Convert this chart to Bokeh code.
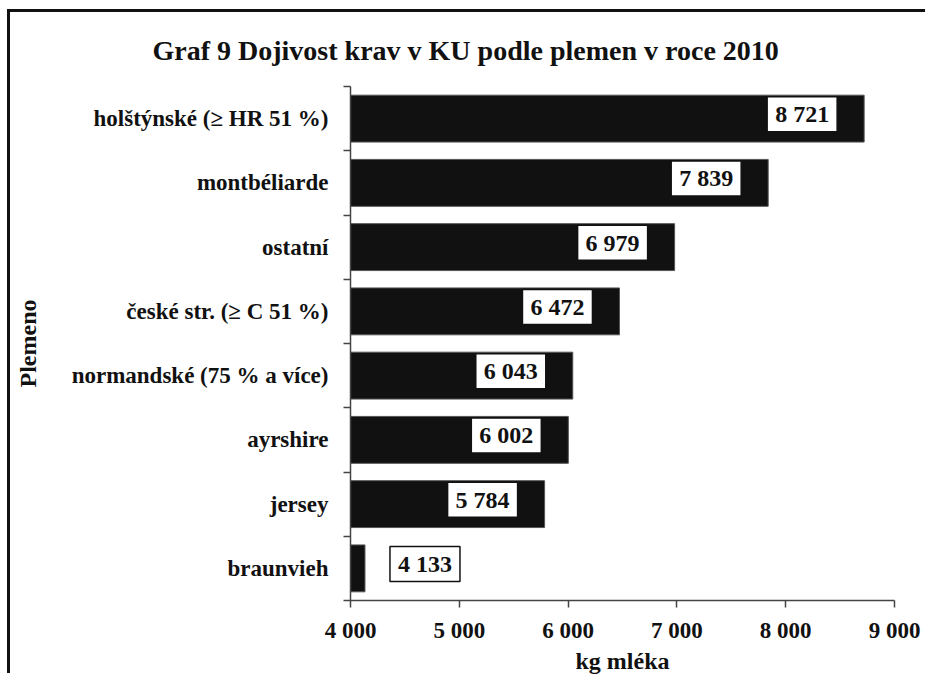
from bokeh.plotting import figure
from bokeh.models import Range1d, FixedTicker, ColumnDataSource
from bokeh.embed import file_html
from bokeh.resources import INLINE
from bokeh.core.properties import value

# ---- data ----
categories = ["holštýnské (≥ HR 51 %)", "montbéliarde", "ostatní",
              "české str. (≥ C 51 %)", "normandské (75 % a více)",
              "ayrshire", "jersey", "braunvieh"]
milk = [8721, 7839, 6979, 6472, 6043, 6002, 5784, 4133]
value_labels = ["8 721", "7 839", "6 979", "6 472", "6 043", "6 002", "5 784", "4 133"]
x_ticks = [4000, 5000, 6000, 7000, 8000, 9000]
x_tick_labels = ["4 000", "5 000", "6 000", "7 000", "8 000", "9 000"]
title_text = "Graf 9 Dojivost krav v KU podle plemen v roce 2010"
x_title = "kg mléka"
y_title = "Plemeno"

# ---- layout ----
W, H = 918, 664
ML, MR, MT, MB = 340, 34, 74, 75
XMIN, XMAX = 4000, 9000
FNAME = "Liberation Serif"
FONT = value(FNAME)
frame_w = W - ML - MR
units_per_px = (XMAX - XMIN) / frame_w

n = len(categories)
ypos = [i + 0.5 for i in range(n)]
lab_x = []
for v in milk:
    if (v - XMIN) / units_per_px > 140:
        lab_x.append(v - 62 * units_per_px)
    else:
        lab_x.append(v + 60 * units_per_px)

src = ColumnDataSource(dict(y=ypos, v=milk, lx=lab_x, lt=value_labels,
                            by=[y - 0.07 for y in ypos]))

p = figure(width=W, height=H, output_backend="svg", toolbar_location=None,
           x_range=Range1d(XMIN, XMAX), y_range=Range1d(n, 0),
           min_border_left=ML, min_border_right=MR,
           min_border_top=MT, min_border_bottom=MB)
p.styles = {"margin-left": "10px", "margin-top": "12px",
            "margin-bottom": "-40px", "margin-right": "-40px",
            "vertical-align": "top",
            "box-shadow": "-3px -3px 0px 0px #111111"}
p.outline_line_color = None
p.xgrid.visible = False
p.ygrid.visible = False
p.background_fill_color = "white"
p.border_fill_color = "white"

# title
p.title.text = title_text
p.title.align = "left"
p.title.offset = -198
p.title.standoff = 41
p.title.text_font = FNAME
p.title.text_font_style = "bold"
p.title.text_font_size = "28px"
p.title.text_color = "#111111"

p.hbar(y="y", left=XMIN, right="v", height=0.73, source=src,
       fill_color="#111111", line_color="#555555", line_width=1)

p.rect(x="lx", y="by", width=70, height=35, width_units="screen",
       height_units="screen", source=src, fill_color="white",
       line_color="#111111", line_width=1.5)
p.text(x="lx", y="by", text="lt", source=src, text_align="center",
       text_baseline="middle", text_font=FONT, text_font_style="bold",
       text_font_size="24px", text_color="#111111")

# x axis
xa = p.xaxis[0]
xa.ticker = FixedTicker(ticks=x_ticks, minor_ticks=[])
xa.major_label_overrides = {t: l for t, l in zip(x_ticks, x_tick_labels)}
xa.major_tick_out = 7
xa.major_tick_in = 0
xa.minor_tick_line_color = None
xa.axis_line_color = "#444444"
xa.axis_line_width = 1.5
xa.major_tick_line_color = "#444444"
xa.major_tick_line_width = 1.5
xa.major_label_text_font = FNAME
xa.major_label_text_font_style = "bold"
xa.major_label_text_font_size = "23px"
xa.major_label_text_color = "#111111"
xa.major_label_standoff = 10
xa.axis_label = x_title
xa.axis_label_text_font = FNAME
xa.axis_label_text_font_style = "bold"
xa.axis_label_text_font_size = "24px"
xa.axis_label_text_color = "#111111"
xa.axis_label_standoff = 2

# y axis
ya = p.yaxis[0]
ya.ticker = FixedTicker(ticks=ypos, minor_ticks=list(range(n + 1)))
ya.major_label_overrides = {y: c for y, c in zip(ypos, categories)}
ya.major_tick_out = 0
ya.major_tick_in = 0
ya.minor_tick_out = 7
ya.minor_tick_in = 0
ya.minor_tick_line_color = "#444444"
ya.minor_tick_line_width = 1.5
ya.axis_line_color = "#444444"
ya.axis_line_width = 1.5
ya.major_label_text_font = FNAME
ya.major_label_text_font_style = "bold"
ya.major_label_text_font_size = "23px"
ya.major_label_text_color = "#111111"
ya.major_label_standoff = 15
ya.axis_label = y_title
ya.axis_label_text_font = FNAME
ya.axis_label_text_font_style = "bold"
ya.axis_label_text_font_size = "24px"
ya.axis_label_text_color = "#111111"
ya.axis_label_standoff = 28

open("out.html", "w").write(file_html(p, INLINE))
